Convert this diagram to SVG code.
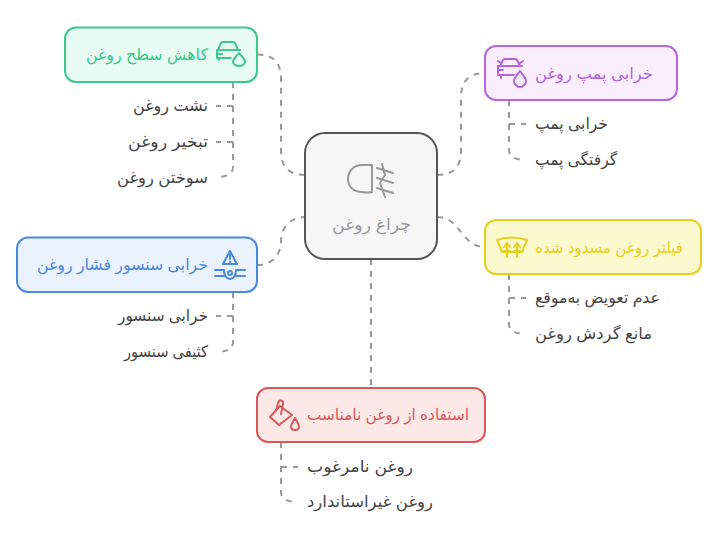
<svg xmlns="http://www.w3.org/2000/svg" width="719" height="539" viewBox="0 0 719 539">
<style>
text{font-family:"Liberation Sans","DejaVu Sans",sans-serif;font-size:16px;text-anchor:start}
.c{fill:none;stroke:#999;stroke-width:2;stroke-dasharray:6 6}
.n{stroke-width:2}
.i{fill:none;stroke-width:2;stroke-linecap:round;stroke-linejoin:round}
.l{fill:#444}
</style>
<rect width="719" height="539" fill="#fff"/>
<g id="connectors">
<path class="c" d="M257,54.5Q281,54.5 281,78.500V151Q281,175 305,175"/>
<path class="c" d="M437,175Q461,175 461,151V97Q461,73 485,73"/>
<path class="c" d="M437,217C461,217 461,247 485,247"/>
<path class="c" d="M257,265C272,265 281,255 281,241C281,227 291,217 305,217"/>
<path class="c" d="M371,259V388"/>
<path class="c" d="M233,82V167Q233,177 216,177"/>
<path class="c" d="M233,106H216M233,142H216"/>
<path class="c" d="M509,100V150Q509,160 526,160"/>
<path class="c" d="M509,124H526"/>
<path class="c" d="M509,274V324Q509,334 526,334"/>
<path class="c" d="M509,298H526"/>
<path class="c" d="M233,292V342Q233,352 216,352"/>
<path class="c" d="M233,316H216"/>
<path class="c" d="M281,442V492Q281,502 298,502"/>
<path class="c" d="M281,467H298"/>
</g>
<g id="center">
<rect class="n" x="305" y="133" width="132" height="126" rx="20" fill="#f6f6f6" stroke="#555"/>
<g class="i" stroke="#999"><path d="M372,165H362C354,165 348,171 348,179C348,187 354,192 362,192Q368,193 372,192Z"/><path d="M377,168L393,173M377,178L393,183M377,188L393,193M382,164L385,175L380,183L385,197"/></g>
<text x="332" y="230" textLength="79" lengthAdjust="spacingAndGlyphs" fill="#999">چراغ روغن</text>
</g>
<g id="green">
<rect class="n" x="65" y="27.500" width="192" height="54.500" rx="11" fill="#e8fbf2" stroke="#3cc88c"/>
<g class="i" stroke="#3cc88c"><path d="M218,50L221,43Q222,42 223,42H232Q234,42 235,43L238,50M217,50H240M217,50V58H231M217,54H222M219,58V60"/><path d="M239,53C236,57 233,59 233,61.500C233,64 236,66 239,66C242,66 245,64 245,61.500C245,59 242,57 239,53Z"/></g>
<text x="86" y="60" textLength="122" lengthAdjust="spacingAndGlyphs" fill="#3cc88c">کاهش سطح روغن</text>
</g>
<g id="green-1"><text class="l" x="133" y="111" textLength="75" lengthAdjust="spacingAndGlyphs">نشت روغن</text></g>
<g id="green-2"><text class="l" x="128" y="147" textLength="80" lengthAdjust="spacingAndGlyphs">تبخیر روغن</text></g>
<g id="green-3"><text class="l" x="117" y="183" textLength="91" lengthAdjust="spacingAndGlyphs">سوختن روغن</text></g>
<g id="purple">
<rect class="n" x="485" y="46" width="192" height="54" rx="11" fill="#f9edfe" stroke="#b565dd"/>
<g class="i" stroke="#b565dd"><path d="M500,66L503,60Q504,59 505,59H515Q516,59 517,60L520,66M498,66H522M498,66V75H514M501,75V78M498,70H503M498,61L501,63M523,61L520,63"/><path d="M520,71C517,75 514,78 514,81C514,84 517,87 520,87C523,87 526,84 526,81C526,78 523,75 520,71Z"/></g>
<text x="535" y="79" textLength="118" lengthAdjust="spacingAndGlyphs" fill="#b565dd">خرابی پمپ روغن</text>
</g>
<g id="purple-1"><text class="l" x="535" y="129" textLength="73" lengthAdjust="spacingAndGlyphs">خرابی پمپ</text></g>
<g id="purple-2"><text class="l" x="535" y="165" textLength="82" lengthAdjust="spacingAndGlyphs">گرفتگی پمپ</text></g>
<g id="yellow">
<rect class="n" x="485" y="220" width="216" height="54" rx="11" fill="#fdf9cf" stroke="#e6cf1e"/>
<g class="i" stroke="#e6cf1e"><path d="M497,240Q512,235 527,240L522,252H502ZM507,257V243M517,257V243M504,247L507,243L510,247M514,247L517,243L520,247M504,251H510M514,251H520"/></g>
<text x="535" y="253" textLength="148" lengthAdjust="spacingAndGlyphs" fill="#e6cf1e">فیلتر روغن مسدود شده</text>
</g>
<g id="yellow-1"><text class="l" x="535" y="303" textLength="125" lengthAdjust="spacingAndGlyphs">عدم تعویض به‌موقع</text></g>
<g id="yellow-2"><text class="l" x="535" y="339" textLength="117" lengthAdjust="spacingAndGlyphs">مانع گردش روغن</text></g>
<g id="blue">
<rect class="n" x="17" y="237.500" width="240" height="54.500" rx="11" fill="#e9f2fd" stroke="#4a8ad8"/>
<g class="i" stroke="#4a8ad8"><path d="M230,251L223,264H237ZM230,255V259M230,261.500V262M215,270H224M236,270H245M215,276H224M236,276H245M224,270Q224,278 230,279Q236,278 236,270"/><circle cx="230" cy="273" r="2"/></g>
<text x="37" y="270" textLength="171" lengthAdjust="spacingAndGlyphs" fill="#4a8ad8">خرابی سنسور فشار روغن</text>
</g>
<g id="blue-1"><text class="l" x="118" y="321" textLength="90" lengthAdjust="spacingAndGlyphs">خرابی سنسور</text></g>
<g id="blue-2"><text class="l" x="124" y="357" textLength="84" lengthAdjust="spacingAndGlyphs">کثیفی سنسور</text></g>
<g id="red">
<rect class="n" x="257" y="388" width="228" height="54" rx="11" fill="#fde8e8" stroke="#d9595a"/>
<g class="i" stroke="#d9595a"><path d="M270,417L280,406L292,415L279,425Z"/><path d="M276,411L278,403C279,399 284,400 283,404L281,414"/><path d="M295,418C293,422 291,424 291,426.500C291,429 293,430 295,430C297,430 299,429 299,426.500C299,424 297,422 295,418Z"/></g>
<text x="307" y="420" textLength="162" lengthAdjust="spacingAndGlyphs" fill="#d9595a">استفاده از روغن نامناسب</text>
</g>
<g id="red-1"><text class="l" x="307" y="472" textLength="106" lengthAdjust="spacingAndGlyphs">روغن نامرغوب</text></g>
<g id="red-2"><text class="l" x="307" y="507" textLength="126" lengthAdjust="spacingAndGlyphs">روغن غیراستاندارد</text></g>
</svg>
